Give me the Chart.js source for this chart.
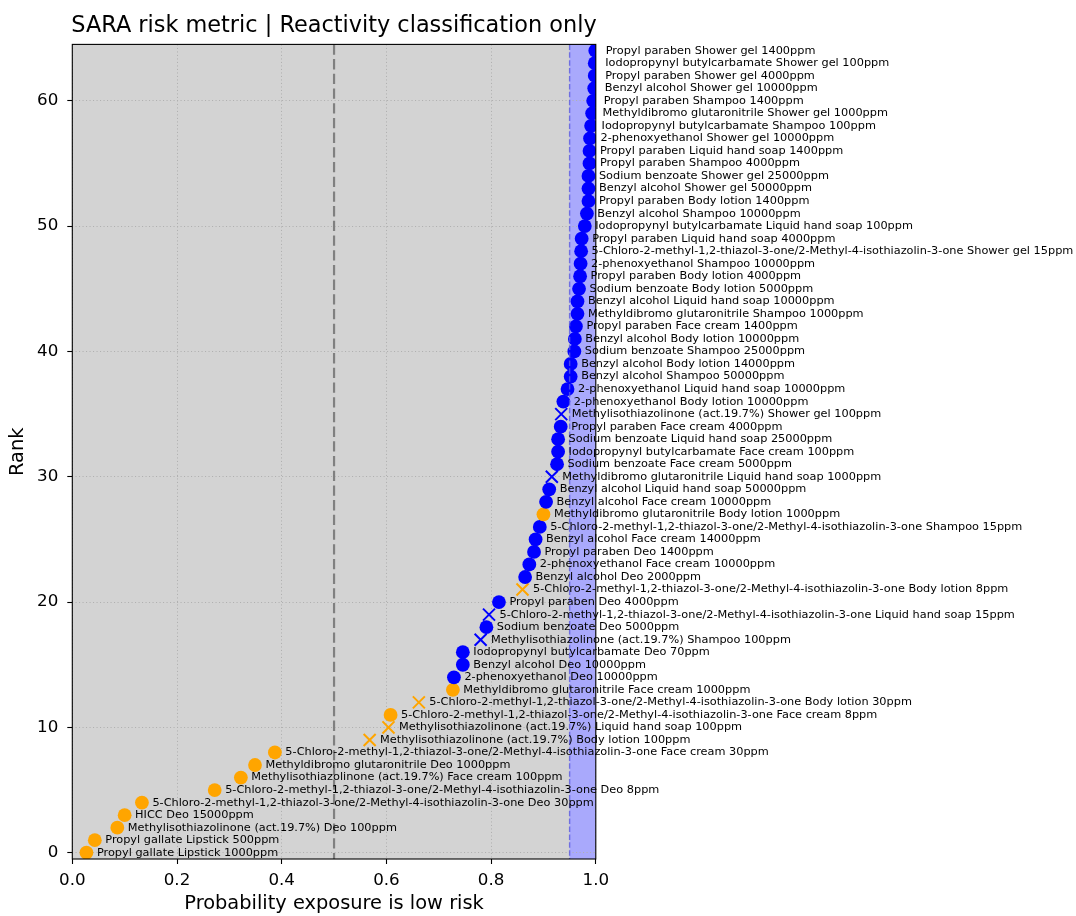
<!DOCTYPE html>
<html>
<head>
<meta charset="utf-8">
<title>SARA risk metric</title>
<script src="https://cdn.jsdelivr.net/npm/chart.js@4/dist/chart.umd.min.js"></script>
<style>
  body { margin: 0; background: #fff; }
  #wrap { width: 1076px; height: 916px; }
</style>
</head>
<body>
<div id="wrap"><canvas id="saraChart" width="1076" height="916"></canvas></div>
<script>
// Exposures in rank order (rank 0 = lowest probability of low risk)
const CMIT = '5-Chloro-2-methyl-1,2-thiazol-3-one/2-Methyl-4-isothiazolin-3-one';
const exposures = [
  'Propyl gallate Lipstick 1000ppm',
  'Propyl gallate Lipstick 500ppm',
  'Methylisothiazolinone (act.19.7%) Deo 100ppm',
  'HICC Deo 15000ppm',
  CMIT + ' Deo 30ppm',
  CMIT + ' Deo 8ppm',
  'Methylisothiazolinone (act.19.7%) Face cream 100ppm',
  'Methyldibromo glutaronitrile Deo 1000ppm',
  CMIT + ' Face cream 30ppm',
  'Methylisothiazolinone (act.19.7%) Body lotion 100ppm',
  'Methylisothiazolinone (act.19.7%) Liquid hand soap 100ppm',
  CMIT + ' Face cream 8ppm',
  CMIT + ' Body lotion 30ppm',
  'Methyldibromo glutaronitrile Face cream 1000ppm',
  '2-phenoxyethanol Deo 10000ppm',
  'Benzyl alcohol Deo 10000ppm',
  'Iodopropynyl butylcarbamate Deo 70ppm',
  'Methylisothiazolinone (act.19.7%) Shampoo 100ppm',
  'Sodium benzoate Deo 5000ppm',
  CMIT + ' Liquid hand soap 15ppm',
  'Propyl paraben Deo 4000ppm',
  CMIT + ' Body lotion 8ppm',
  'Benzyl alcohol Deo 2000ppm',
  '2-phenoxyethanol Face cream 10000ppm',
  'Propyl paraben Deo 1400ppm',
  'Benzyl alcohol Face cream 14000ppm',
  CMIT + ' Shampoo 15ppm',
  'Methyldibromo glutaronitrile Body lotion 1000ppm',
  'Benzyl alcohol Face cream 10000ppm',
  'Benzyl alcohol Liquid hand soap 50000ppm',
  'Methyldibromo glutaronitrile Liquid hand soap 1000ppm',
  'Sodium benzoate Face cream 5000ppm',
  'Iodopropynyl butylcarbamate Face cream 100ppm',
  'Sodium benzoate Liquid hand soap 25000ppm',
  'Propyl paraben Face cream 4000ppm',
  'Methylisothiazolinone (act.19.7%) Shower gel 100ppm',
  '2-phenoxyethanol Body lotion 10000ppm',
  '2-phenoxyethanol Liquid hand soap 10000ppm',
  'Benzyl alcohol Shampoo 50000ppm',
  'Benzyl alcohol Body lotion 14000ppm',
  'Sodium benzoate Shampoo 25000ppm',
  'Benzyl alcohol Body lotion 10000ppm',
  'Propyl paraben Face cream 1400ppm',
  'Methyldibromo glutaronitrile Shampoo 1000ppm',
  'Benzyl alcohol Liquid hand soap 10000ppm',
  'Sodium benzoate Body lotion 5000ppm',
  'Propyl paraben Body lotion 4000ppm',
  '2-phenoxyethanol Shampoo 10000ppm',
  CMIT + ' Shower gel 15ppm',
  'Propyl paraben Liquid hand soap 4000ppm',
  'Iodopropynyl butylcarbamate Liquid hand soap 100ppm',
  'Benzyl alcohol Shampoo 10000ppm',
  'Propyl paraben Body lotion 1400ppm',
  'Benzyl alcohol Shower gel 50000ppm',
  'Sodium benzoate Shower gel 25000ppm',
  'Propyl paraben Shampoo 4000ppm',
  'Propyl paraben Liquid hand soap 1400ppm',
  '2-phenoxyethanol Shower gel 10000ppm',
  'Iodopropynyl butylcarbamate Shampoo 100ppm',
  'Methyldibromo glutaronitrile Shower gel 1000ppm',
  'Propyl paraben Shampoo 1400ppm',
  'Benzyl alcohol Shower gel 10000ppm',
  'Propyl paraben Shower gel 4000ppm',
  'Iodopropynyl butylcarbamate Shower gel 100ppm',
  'Propyl paraben Shower gel 1400ppm'
];

// probability that the exposure is low risk
const probLowRisk = [
  0.027, 0.043, 0.086, 0.100, 0.133, 0.272, 0.322, 0.349, 0.387, 0.568,
  0.604, 0.608, 0.662, 0.727, 0.729, 0.746, 0.746, 0.780, 0.791, 0.796,
  0.815, 0.860, 0.865, 0.873, 0.882, 0.885, 0.893, 0.900, 0.905, 0.911,
  0.916, 0.926, 0.928, 0.928, 0.933, 0.934, 0.938, 0.946, 0.952, 0.952,
  0.959, 0.960, 0.962, 0.965, 0.965, 0.968, 0.970, 0.971, 0.972, 0.973,
  0.979, 0.983, 0.986, 0.986, 0.986, 0.988, 0.988, 0.989, 0.991, 0.993,
  0.995, 0.997, 0.998, 0.998, 0.999
];

// marker colour per exposure
const pointColour = [
  'orange', 'orange', 'orange', 'orange', 'orange', 'orange', 'orange', 'orange', 'orange', 'orange',
  'orange', 'orange', 'orange', 'orange', 'blue', 'blue', 'blue', 'blue', 'blue', 'blue',
  'blue', 'orange', 'blue', 'blue', 'blue', 'blue', 'blue', 'orange', 'blue', 'blue',
  'blue', 'blue', 'blue', 'blue', 'blue', 'blue', 'blue', 'blue', 'blue', 'blue',
  'blue', 'blue', 'blue', 'blue', 'blue', 'blue', 'blue', 'blue', 'blue', 'blue',
  'blue', 'blue', 'blue', 'blue', 'blue', 'blue', 'blue', 'blue', 'blue', 'blue',
  'blue', 'blue', 'blue', 'blue', 'blue'
];

// marker shape per exposure: 'o' circle, 'x' cross
const pointMarker = [
  'o', 'o', 'o', 'o', 'o', 'o', 'o', 'o', 'o', 'x',
  'x', 'o', 'x', 'o', 'o', 'o', 'o', 'x', 'o', 'x',
  'o', 'x', 'o', 'o', 'o', 'o', 'o', 'o', 'o', 'o',
  'x', 'o', 'o', 'o', 'o', 'x', 'o', 'o', 'o', 'o',
  'o', 'o', 'o', 'o', 'o', 'o', 'o', 'o', 'o', 'o',
  'o', 'o', 'o', 'o', 'o', 'o', 'o', 'o', 'o', 'o',
  'o', 'o', 'o', 'o', 'o'
];

const xTicks = [0, 0.2, 0.4, 0.6, 0.8, 1.0];
const yTicks = [0, 10, 20, 30, 40, 50, 60];
const midThreshold = 0.5;
const lowRiskThreshold = 0.95;

const colours = { orange: '#ffa500', blue: '#0000ff' };
const labelOffset = 0.02;

Chart.defaults.font.family = "'DejaVu Sans', sans-serif";
Chart.defaults.color = '#000';

const puntos = probLowRisk.map((p, i) => ({ x: p, y: i }));

// gray axes background and the low-risk band
const fondo = {
  id: 'fondo',
  beforeDraw(chart) {
    const { ctx, chartArea: a, scales: { x } } = chart;
    ctx.save();
    ctx.fillStyle = '#d3d3d3';
    ctx.fillRect(a.left, a.top, a.right - a.left, a.bottom - a.top);
    const x0 = x.getPixelForValue(lowRiskThreshold);
    const x1 = x.getPixelForValue(1);
    ctx.fillStyle = '#a9a9fc';
    ctx.fillRect(x0, a.top, x1 - x0, a.bottom - a.top);
    ctx.restore();
  }
};

// threshold lines, frame, point labels and title
const extras = {
  id: 'extras',
  afterDatasetsDraw(chart) {
    const { ctx, chartArea: a, scales: { x, y } } = chart;
    ctx.save();

    const vline = (v, color, width, dash) => {
      const px = x.getPixelForValue(v);
      ctx.beginPath();
      ctx.strokeStyle = color;
      ctx.lineWidth = width;
      ctx.setLineDash(dash);
      ctx.moveTo(px, a.top);
      ctx.lineTo(px, a.bottom);
      ctx.stroke();
    };
    vline(midThreshold, '#808080', 2.2, [10.3, 4.4]);
    vline(lowRiskThreshold, 'rgba(90, 90, 225, 0.8)', 1.4, [5.5, 2.4]);

    ctx.setLineDash([]);
    ctx.strokeStyle = '#000';
    ctx.lineWidth = 1.1;
    ctx.strokeRect(a.left, a.top, a.right - a.left, a.bottom - a.top);

    ctx.fillStyle = '#000';
    ctx.font = '11.3px "DejaVu Sans"';
    ctx.textAlign = 'left';
    ctx.textBaseline = 'middle';
    exposures.forEach((txt, i) => {
      ctx.fillText(txt, x.getPixelForValue(probLowRisk[i] + labelOffset), y.getPixelForValue(i));
    });

    ctx.font = '22.4px "DejaVu Sans"';
    ctx.textBaseline = 'alphabetic';
    ctx.fillText('SARA risk metric | Reactivity classification only', a.left - 1, 31.5);
    ctx.restore();
  }
};

const ctx = document.getElementById('saraChart').getContext('2d');
new Chart(ctx, {
  type: 'scatter',
  data: {
    datasets: [{
      data: puntos,
      clip: 0,
      pointStyle: c => pointMarker[c.dataIndex] === 'x' ? 'crossRot' : 'circle',
      pointRadius: c => pointMarker[c.dataIndex] === 'x' ? 8.5 : 6.9,
      pointHoverRadius: c => pointMarker[c.dataIndex] === 'x' ? 8.5 : 6.9,
      pointBackgroundColor: c => colours[pointColour[c.dataIndex]],
      pointBorderColor: c => colours[pointColour[c.dataIndex]],
      pointBorderWidth: c => pointMarker[c.dataIndex] === 'x' ? 2 : 0
    }]
  },
  options: {
    responsive: false,
    animation: false,
    events: [],
    layout: { padding: { left: 0, top: 44.4, right: 480.2, bottom: 0 } },
    plugins: {
      legend: { display: false },
      tooltip: { enabled: false }
    },
    scales: {
      x: {
        type: 'linear',
        min: 0,
        max: 1,
        afterBuildTicks: axis => { axis.ticks = xTicks.map(v => ({ value: v })); },
        afterFit: axis => { axis.height = 57; },
        ticks: {
          font: { size: 16.7 },
          padding: 6.5,
          maxRotation: 0,
          autoSkip: false,
          callback: v => v.toFixed(1)
        },
        grid: { color: '#b0b0b0', lineWidth: 1, tickLength: 5, tickColor: '#000', tickWidth: 1.1 },
        border: { display: false, dash: [1.1, 2.4] },
        title: {
          display: true,
          text: 'Probability exposure is low risk',
          font: { size: 19.4 },
          padding: { top: 0, bottom: 0 }
        }
      },
      y: {
        type: 'linear',
        min: -0.5,
        max: 64.5,
        afterBuildTicks: axis => { axis.ticks = yTicks.map(v => ({ value: v })); },
        afterFit: axis => { axis.width = 72.3; },
        ticks: {
          font: { size: 16.7 },
          padding: 9,
          autoSkip: false,
          callback: v => String(v)
        },
        grid: { color: '#b0b0b0', lineWidth: 1, tickLength: 5, tickColor: '#000', tickWidth: 1.1 },
        border: { display: false, dash: [1.1, 2.4] },
        title: {
          display: true,
          text: 'Rank',
          font: { size: 19.4 },
          padding: { top: 6, bottom: 0 }
        }
      }
    }
  },
  plugins: [fondo, extras]
});
</script>
</body>
</html>
